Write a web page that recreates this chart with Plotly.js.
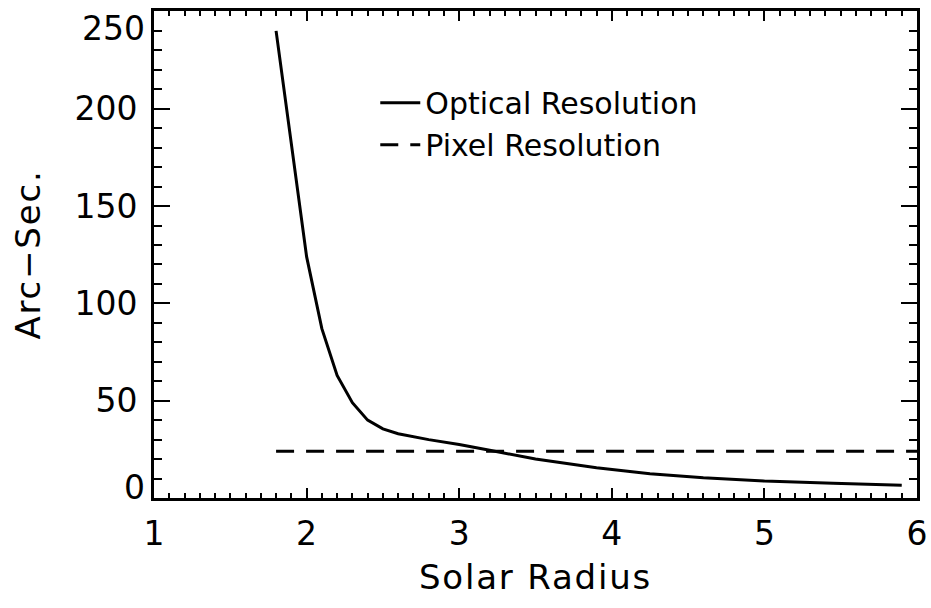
<!DOCTYPE html>
<html>
<head>
<meta charset="utf-8">
<script src="https://cdn.plot.ly/plotly-3.0.1.min.js"></script>
<style>
html,body{margin:0;padding:0;background:#fff;}
#chart{width:931px;height:608px;}
#chart .xtitle,#chart .ytitle{letter-spacing:1.8px;}
</style>
</head>
<body>
<div id="chart"></div>
<script>
// Data
var opticalX = [1.8, 1.85, 1.9, 1.95, 2.0, 2.1, 2.2, 2.3, 2.4, 2.5, 2.6, 2.8, 3.0, 3.2, 3.5, 3.9, 4.25, 4.6, 5.0, 5.45, 5.9];
var opticalY = [240, 211, 181, 153, 124, 87, 63, 49, 40, 35.5, 33, 30, 27.5, 24.5, 20, 15.5, 12.5, 10.4, 8.7, 7.6, 6.6];
var pixelX = [1.8, 6.0];
var pixelY = [24, 24];
var seriesNames = ["Optical Resolution", "Pixel Resolution"];
var xTickVals = [1, 2, 3, 4, 5, 6];
var yTickVals = [0, 50, 100, 150, 200, 250];
var xTitle = "Solar Radius";
var yTitle = "Arc\u2212Sec.";

var FONT = "DejaVu Sans, sans-serif";
var yMin = yTickVals[0], yMax = yTickVals[yTickVals.length - 1];

var traces = [
  {x: opticalX, y: opticalY, name: seriesNames[0], type: "scatter", mode: "lines",
   line: {color: "#000", width: 3}},
  {x: pixelX, y: pixelY, name: seriesNames[1], type: "scatter", mode: "lines",
   line: {color: "#000", width: 3, dash: "18px,12px"}}
];

// end labels of the y axis sit inside the frame, as in the original
var endLabels = [yMin, yMax].map(function (v) {
  return {xref: "paper", yref: "y", x: 0, y: v, xanchor: "right", yanchor: "middle",
          text: String(v), showarrow: false, xshift: -7,
          yshift: v === yMax ? -17 : 11, font: {size: 33, family: FONT, color: "#000"}};
});

var layout = {
  width: 931, height: 608,
  margin: {l: 154, r: 14, t: 11, b: 110},
  paper_bgcolor: "#fff", plot_bgcolor: "#fff",
  font: {family: FONT, color: "#000", size: 33},
  showlegend: true,
  legend: {x: 0.29, y: 0.865, xanchor: "left", yanchor: "top",
           bgcolor: "rgba(0,0,0,0)", font: {size: 30, family: FONT},
           itemwidth: 40},
  annotations: endLabels,
  xaxis: {
    range: [1, 6], tickvals: xTickVals, ticktext: xTickVals.map(String),
    ticks: "inside", ticklen: 10, tickwidth: 2, tickcolor: "#000",
    showline: true, linewidth: 3, linecolor: "#000", mirror: "allticks",
    showgrid: false, zeroline: false,
    minor: {dtick: 0.1, ticks: "inside", ticklen: 5, tickwidth: 2, tickcolor: "#000", showgrid: false},
    tickfont: {size: 33}, ticklabelstandoff: 4, ticklabeloverflow: "allow",
    title: {text: xTitle, font: {size: 34}, standoff: 14}
  },
  yaxis: {
    range: [yMin, yMax + 0.2], tickvals: yTickVals,
    ticktext: yTickVals.map(function (v) { return (v === yMin || v === yMax) ? "" : String(v); }),
    ticks: "inside", ticklen: 16, tickwidth: 2, tickcolor: "#000",
    showline: true, linewidth: 3, linecolor: "#000", mirror: "allticks",
    showgrid: false, zeroline: false,
    minor: {dtick: 10, ticks: "inside", ticklen: 8, tickwidth: 2, tickcolor: "#000", showgrid: false},
    tickfont: {size: 33}, ticklabelstandoff: 7, ticklabeloverflow: "allow",
    title: {text: yTitle, font: {size: 34}, standoff: 24}
  }
};

Plotly.newPlot("chart", traces, layout, {displayModeBar: false, staticPlot: true});
</script>
</body>
</html>
